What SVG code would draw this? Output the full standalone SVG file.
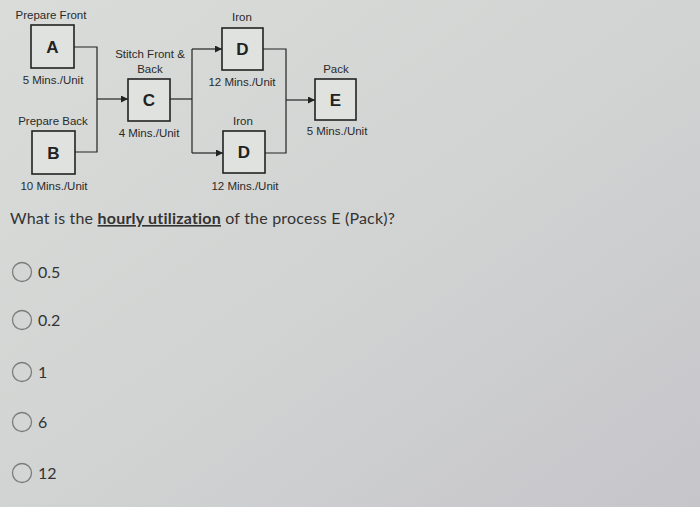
<svg xmlns="http://www.w3.org/2000/svg" width="700" height="507" viewBox="0 0 700 507">
<defs>
<linearGradient id="bg" x1="0" y1="0" x2="1" y2="1">
<stop offset="0" stop-color="#d9dcd9"/>
<stop offset="0.5" stop-color="#d2d4d3"/>
<stop offset="1" stop-color="#c6c5ca"/>
</linearGradient>
<marker id="arr" viewBox="0 0 10 10" refX="10" refY="5" markerWidth="7" markerHeight="7" markerUnits="userSpaceOnUse" orient="auto">
<path d="M0,0 L10,5 L0,10 z" fill="#222"/>
</marker>
<style>
.box{fill:#dfe2df;stroke:#222;stroke-width:1.6}
.lbl{font-family:"Liberation Sans",Arial,sans-serif;font-size:11.5px;fill:#2a2a2a;text-anchor:middle}
.let{font-family:"Liberation Sans",Arial,sans-serif;font-size:17px;font-weight:bold;fill:#222;text-anchor:middle}
.ln{fill:none;stroke:#222;stroke-width:1.2}
.q{font-family:Lato,"Liberation Sans",sans-serif;font-size:16px;letter-spacing:0.2px;fill:#333}
.opt{font-family:Lato,"Liberation Sans",sans-serif;font-size:16px;fill:#333}
.rad{fill:#d4d6d5;stroke:#7a7c7c;stroke-width:1.3}
</style>
</defs>
<rect width="700" height="507" fill="url(#bg)"/>

<g id="connectors">
<path class="ln" d="M74,47 H97 V152 H75"/>
<path class="ln" d="M97,99 H128" marker-end="url(#arr)"/>
<path class="ln" d="M170,99 H192"/>
<path class="ln" d="M192,49 V153"/>
<path class="ln" d="M192,49 H222" marker-end="url(#arr)"/>
<path class="ln" d="M192,153 H223" marker-end="url(#arr)"/>
<path class="ln" d="M263,49 H286 V153 H265"/>
<path class="ln" d="M286,100 H315" marker-end="url(#arr)"/>
</g>

<g id="nodeA">
<text class="lbl" x="51" y="19">Prepare Front</text>
<rect class="box" x="31" y="25" width="43" height="43"/>
<text class="let" x="52.5" y="53">A</text>
<text class="lbl" x="53" y="84">5 Mins./Unit</text>
</g>
<g id="nodeB">
<text class="lbl" x="53" y="125">Prepare Back</text>
<rect class="box" x="32" y="131" width="43" height="43"/>
<text class="let" x="53.5" y="159">B</text>
<text class="lbl" x="54" y="190">10 Mins./Unit</text>
</g>
<g id="nodeC">
<text class="lbl" x="150" y="58">Stitch Front &amp;</text>
<text class="lbl" x="150" y="73">Back</text>
<rect class="box" x="128" y="79" width="42" height="42"/>
<text class="let" x="149" y="106">C</text>
<text class="lbl" x="149" y="137">4 Mins./Unit</text>
</g>
<g id="nodeD1">
<text class="lbl" x="242" y="21">Iron</text>
<rect class="box" x="222" y="28" width="41" height="42"/>
<text class="let" x="242.5" y="55">D</text>
<text class="lbl" x="242" y="86">12 Mins./Unit</text>
</g>
<g id="nodeD2">
<text class="lbl" x="243" y="125">Iron</text>
<rect class="box" x="223" y="131" width="42" height="42"/>
<text class="let" x="244" y="158">D</text>
<text class="lbl" x="245" y="190">12 Mins./Unit</text>
</g>
<g id="nodeE">
<text class="lbl" x="336" y="73">Pack</text>
<rect class="box" x="315" y="79" width="41" height="41"/>
<text class="let" x="335.5" y="106">E</text>
<text class="lbl" x="337" y="135">5 Mins./Unit</text>
</g>

<g id="question">
<text class="q" x="10" y="224">What is the <tspan font-weight="bold" text-decoration="underline">hourly utilization</tspan> of the process E (Pack)?</text>
</g>

<g id="options">
<circle class="rad" cx="22" cy="272" r="9.5"/>
<text class="opt" x="38" y="277.5">0.5</text>
<circle class="rad" cx="22" cy="320" r="9.5"/>
<text class="opt" x="38" y="325.5">0.2</text>
<circle class="rad" cx="22" cy="372" r="9.5"/>
<text class="opt" x="38" y="377.5">1</text>
<circle class="rad" cx="22" cy="422" r="9.5"/>
<text class="opt" x="38" y="427.5">6</text>
<circle class="rad" cx="22" cy="473" r="9.5"/>
<text class="opt" x="38" y="478.5">12</text>
</g>
</svg>
